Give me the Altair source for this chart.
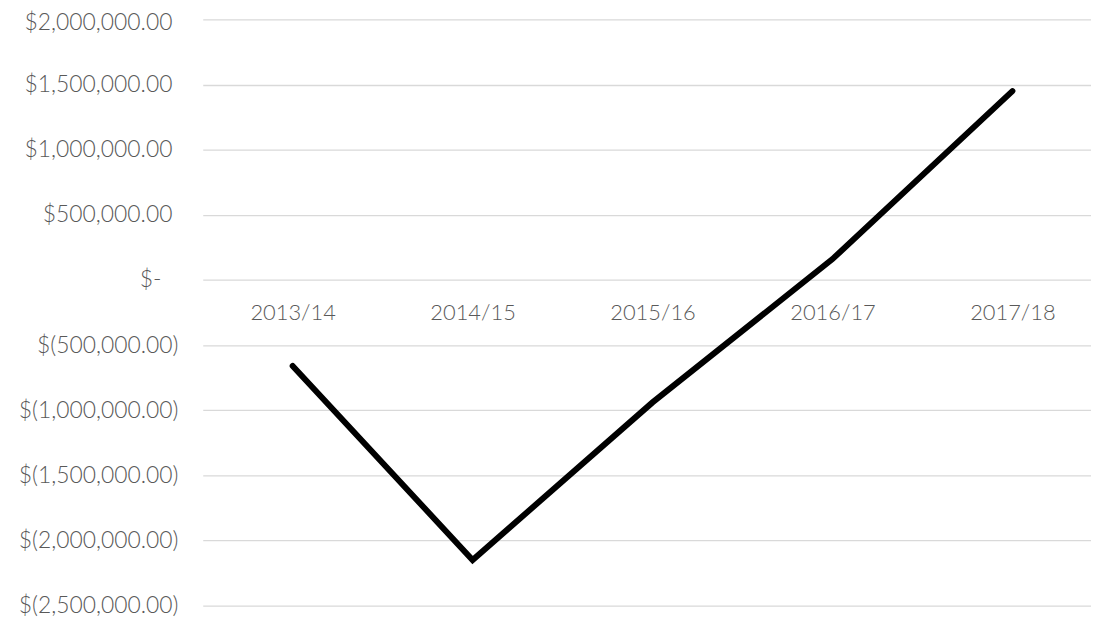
import altair as alt
import pandas as pd

years = ["2013/14", "2014/15", "2015/16", "2016/17", "2017/18"]
values = [-660000, -2150000, -940000, 160000, 1450000]
y_ticks = [-2500000, -2000000, -1500000, -1000000, -500000, 0, 500000, 1000000, 1500000, 2000000]

df = pd.DataFrame({"year": years, "value": values})

FONT = "Lato"
GREY = "#595959"

label_expr = (
    "datum.value == 0 ? '$-' : "
    "(datum.value < 0 ? '$(' + format(-datum.value, ',.2f') + ')' : "
    "'$' + format(datum.value, ',.2f'))"
)

label_padding = {
    "condition": [
        {"test": "datum.value == 0", "value": 42},
        {"test": "datum.value > 0", "value": 31},
    ],
    "value": 25,
}

label_offset = {
    "condition": {"test": "datum.value == 2000000", "value": 3},
    "value": 0,
}

chart = (
    alt.Chart(df)
    .mark_line(color="black", strokeWidth=6, strokeCap="round", strokeJoin="miter")
    .encode(
        x=alt.X(
            "year:N",
            sort=years,
            scale=alt.Scale(type="point", padding=0.4683, align=0.5336, round=False),
            axis=alt.Axis(
                title=None,
                orient="bottom",
                offset=-327.5,
                domain=False,
                ticks=False,
                tickSize=0,
                grid=False,
                labelAngle=0,
                labelFont=FONT,
                labelFontSize=22,
                labelFontWeight=300,
                labelColor=GREY,
                labelBaseline="alphabetic",
                labelPadding=39.5,
            ),
        ),
        y=alt.Y(
            "value:Q",
            scale=alt.Scale(domain=[-2500000, 2000000], nice=False, zero=False),
            axis=alt.Axis(
                title=None,
                values=y_ticks,
                labelExpr=label_expr,
                domain=False,
                ticks=False,
                tickSize=0,
                grid=True,
                gridColor="#d9d9d9",
                gridWidth=1.3,
                labelFont=FONT,
                labelFontSize=23,
                labelFontWeight=300,
                labelColor=GREY,
                labelPadding=label_padding,
                labelOffset=label_offset,
            ),
        ),
    )
    .properties(
        width=894,
        height=590,
        autosize=alt.AutoSizeParams(type="none"),
        padding={"left": 196, "top": 9.5, "right": 0, "bottom": 14},
    )
    .configure_view(stroke=None)
)

chart.save("out.html", embed_options={"renderer": "svg", "actions": False})
